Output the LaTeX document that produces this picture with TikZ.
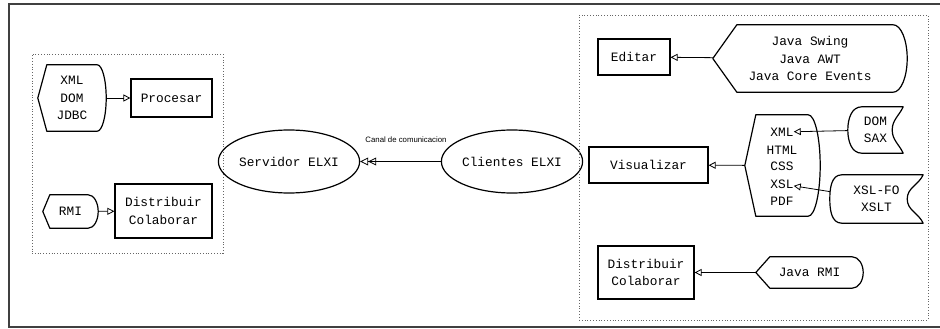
\documentclass[tikz,border=0pt]{standalone}
\usepackage{fontspec}
\setmonofont{Liberation Mono}
\setsansfont{Liberation Sans}
\usetikzlibrary{arrows.meta,shapes.geometric,calc}

% outline of a display shape: node, left inset, right inset
\newcommand{\displayline}[3]{%
  \draw[outline] ([xshift=#2]#1.north west) -- ([xshift=-#3]#1.north east)
    .. controls ([xshift=-0.448*#3]#1.north east) and ($(#1.east)!0.552!(#1.north east)$) .. (#1.east)
    .. controls ($(#1.east)!0.552!(#1.south east)$) and ([xshift=-0.448*#3]#1.south east) .. ([xshift=-#3]#1.south east)
    -- ([xshift=#2]#1.south west) -- (#1.west) -- cycle;}
% outline of a stored data shape: node, left inset, right inset
\newcommand{\storedline}[3]{%
  \draw[outline] ([xshift=#2]#1.north west) -- (#1.north east)
    to[out=-115,in=90] ([xshift=-#3]#1.east) to[out=-90,in=115] (#1.south east)
    -- ([xshift=#2]#1.south west) to[out=180,in=-90] (#1.west)
    to[out=90,in=180] ([xshift=#2]#1.north west) -- cycle;}

\begin{document}
\begin{tikzpicture}[x=1pt,y=1pt,
    every node/.style={font=\ttfamily\fontsize{12.8}{17.3}\selectfont, align=center, inner sep=0pt},
    outline/.style={line width=1.2pt, line join=round},
    box/.style={draw, line width=1.2pt},
    elxi/.style={ellipse, draw, line width=1.2pt, minimum width=130pt, minimum height=63pt},
    group/.style={draw=black!60, dotted, line width=0.8pt},
    conn/.style={line width=0.8pt, -{Triangle[open,length=7pt,width=7pt]}},
    channel/.style={line width=0.8pt, -{Triangle[open,length=8pt,width=8pt]Triangle[open,length=8pt,width=8pt]}}]
  \useasboundingbox (0,0) rectangle (940,-329);
  \draw[black!75, line width=1.3pt] (946,-4) -- (9,-4) -- (9,-327) -- (946,-327);

  % servidor
  \node[group, minimum width=191pt, minimum height=199pt] (servergrp) at (127.5,-153.5) {};
  \node[minimum width=68pt, minimum height=66pt] (xmldom) at (72,-98) {XML\\DOM\\JDBC};
  \node[box, minimum width=81pt, minimum height=38pt] (procesar) at (171.5,-98) {Procesar};
  \node[minimum width=55pt, minimum height=33pt] (rmi) at (70.5,-211.5) {RMI};
  \node[box, minimum width=97pt, minimum height=54pt] (distserver) at (163.5,-211) {Distribuir\\Colaborar};
  \displayline{xmldom}{9pt}{9pt}
  \displayline{rmi}{7pt}{10pt}
  \draw[conn] (xmldom) -- (procesar);
  \draw[conn] (rmi) -- (distserver);

  \node[elxi] (servidor) at (289,-161.5) {Servidor ELXI};
  \node[elxi] (clientes) at (512,-161.5) {Clientes ELXI};
  \draw[channel] (clientes) -- (servidor);
  \node[font=\sffamily\fontsize{7.8}{9}\selectfont] (canal) at (406,-140) {Canal de comunicacion};

  % clientes
  \node[group, minimum width=349pt, minimum height=305pt] (clientgrp) at (753.5,-167.5) {};
  \node[box, minimum width=72pt, minimum height=36pt] (editar) at (634,-57) {Editar};
  \node[minimum width=194pt, minimum height=67pt] (javaui) at (810,-58.5) {Java Swing\\Java AWT\\Java Core Events};
  \displayline{javaui}{24pt}{14pt}
  \draw[conn] (javaui) -- (editar);

  \node[box, minimum width=119pt, minimum height=36pt] (visualizar) at (648.5,-165) {Visualizar};
  \node[minimum width=75pt, minimum height=101pt] (formats) at (782.5,-165.5) {};
  \displayline{formats}{11pt}{12pt}
  \node (xml) at (782,-132) {XML};
  \node (html) at (782,-150) {HTML};
  \node (css) at (782,-166) {CSS};
  \node (xsl) at (782,-184) {XSL};
  \node (pdf) at (782,-201) {PDF};
  \draw[conn] (formats) -- (visualizar);

  \node[minimum width=55pt, minimum height=46pt] (domsax) at (875.5,-130) {DOM\\SAX};
  \storedline{domsax}{14pt}{11pt}
  \node[minimum width=93pt, minimum height=48pt] (xslfo) at (876.5,-199) {XSL-FO\\XSLT};
  \storedline{xslfo}{12pt}{16pt}
  \draw[conn] (domsax) -- (xml);
  \draw[conn] (xslfo) -- (xsl);

  \node[box, minimum width=96pt, minimum height=53pt] (distclient) at (646,-272.5) {Distribuir\\Colaborar};
  \node[minimum width=107pt, minimum height=31pt] (javarmi) at (809.5,-272.5) {Java RMI};
  \displayline{javarmi}{14pt}{11pt}
  \draw[conn] (javarmi) -- (distclient);
\end{tikzpicture}
\end{document}
